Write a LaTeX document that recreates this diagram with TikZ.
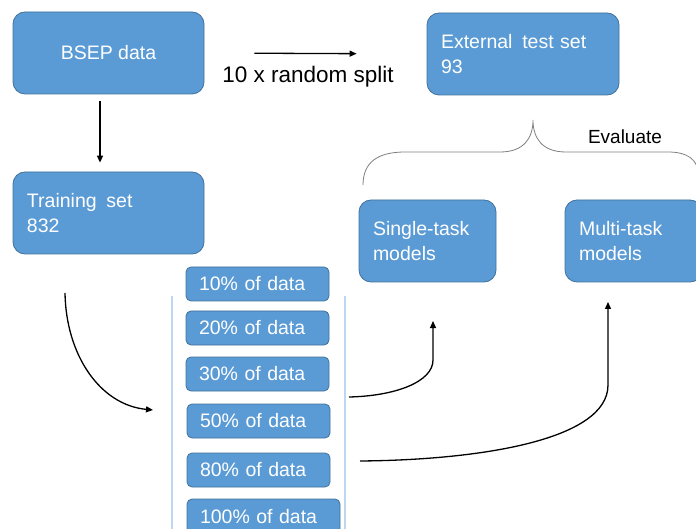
\documentclass[tikz,border=0pt]{standalone}
\usepackage{fontspec}
\setmainfont{Liberation Sans}
\usetikzlibrary{arrows.meta}
\definecolor{boxfill}{HTML}{5B9BD5}
\definecolor{boxline}{HTML}{41719C}
\definecolor{lightline}{HTML}{BDD7EE}
\definecolor{bracegray}{HTML}{7F7F7F}
\tikzset{
  bigbox/.style={rectangle, rounded corners=12pt, fill=boxfill, draw=boxline, line width=0.8pt,
    text=white, font=\fontsize{19.5}{25}\selectfont, minimum height=82pt, inner sep=0pt},
  pctbox/.style={rectangle, rounded corners=5pt, fill=boxfill, draw=boxline, line width=0.8pt,
    text=white, font=\fontsize{19.5}{23}\selectfont, minimum height=34pt, inner xsep=13pt, inner ysep=0pt,
    align=left},
  flow/.style={-{Triangle[length=7pt,width=6pt]}, line width=1.3pt, black},
  guide/.style={lightline, line width=1.5pt},
  bracket/.style={bracegray, line width=0.8pt}
}
\begin{document}
\begin{tikzpicture}[x=1pt,y=-1pt]
\useasboundingbox (0,0) rectangle (696,529);
\clip (0,0) rectangle (696,529);

% big boxes
\node[bigbox, minimum width=191pt] (bsep) at (108.5,53) {BSEP data};
\node[bigbox, minimum width=192pt, text width=164pt, align=left] (ext) at (523,54) {External\hspace{0.5em}test set\\93};
\node[bigbox, minimum width=191pt, text width=163pt, align=left] (train) at (108.5,213) {Training\hspace{0.5em}set\\832};
\node[bigbox, minimum width=137pt, text width=109pt, align=left] (single) at (427.5,241) {Single-task\\models};
\node[bigbox, minimum width=137pt, text width=109pt, align=left] (multi) at (633.5,241) {Multi-task\\models};

% guide lines
\coordinate (gl1) at (172,296);
\coordinate (gl2) at (172,530);
\coordinate (gr1) at (345,296);
\coordinate (gr2) at (345,530);
\draw[guide] (gl1) -- (gl2);
\draw[guide] (gr1) -- (gr2);

% percentage boxes
\node[pctbox, text width=117pt] (p10) at (257.5,284) {10\% of data};
\node[pctbox, text width=117pt] (p20) at (257.5,328) {20\% of data};
\node[pctbox, text width=117pt] (p30) at (257.5,374) {30\% of data};
\node[pctbox, text width=117pt] (p50) at (258.5,421) {50\% of data};
\node[pctbox, text width=117pt] (p80) at (258.5,470) {80\% of data};
\node[pctbox, text width=127pt, minimum height=36pt] (p100) at (263.5,517) {100\% of data};

% arrows
\draw[flow, shorten <=7pt, shorten >=9pt] (bsep.south -| 100,0) -- (train.north -| 100,0);
\draw[flow, shorten <=50pt, shorten >=70pt] (bsep.east) -- (ext.west);
\node[font=\fontsize{22.5}{26}\selectfont] (split) at (308,77) {10 x random split};

\coordinate (c1s) at (65,293);
\coordinate (c1e) at (153,410);
\draw[flow] (c1s) .. controls (66,355) and (100,405) .. (c1e);

\coordinate (c2s) at (349,397);
\coordinate (c2m) at (433,360);
\coordinate (c2e) at (433,321);
\draw[flow] (c2s) .. controls (395,396) and (433,382) .. (c2m) -- (c2e);

\coordinate (c3s) at (360,461);
\coordinate (c3m) at (608,385);
\coordinate (c3e) at (608,302);
\draw[flow] (c3s) .. controls (480,460) and (608,440) .. (c3m) -- (c3e);

% brace
\coordinate (bl) at (363,185);
\coordinate (bt) at (533,120);
\coordinate (br) at (698,172);
\draw[bracket] (bl) .. controls (363,162) and (378,152) .. (405,152) -- (500,152)
  .. controls (524,152) and (533,138) .. (bt)
  .. controls (533,138) and (542,152) .. (566,152) -- (668,152)
  .. controls (688,152) and (697,160) .. (br);
\node[font=\fontsize{19}{23}\selectfont] (eval) at (625,137) {Evaluate};
\end{tikzpicture}
\end{document}
